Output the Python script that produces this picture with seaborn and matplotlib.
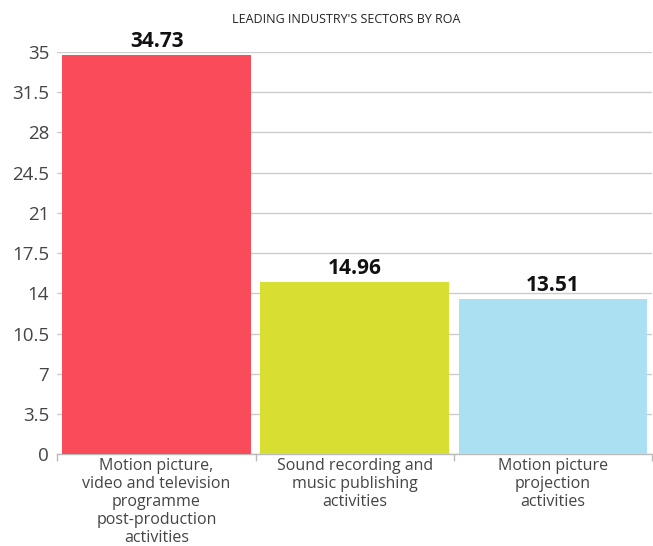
import numpy as np
import pandas as pd
import matplotlib
matplotlib.use("Agg")
import matplotlib.pyplot as plt
import seaborn as sns

# ==========================================================
# Data
# ==========================================================

sectors = [
    "Motion picture,\nvideo and television\nprogramme\npost-production\nactivities",
    "Sound recording and\nmusic publishing\nactivities",
    "Motion picture\nprojection\nactivities",
]
roa = [34.73, 14.96, 13.51]
bar_colors = ["#F94B5A", "#D8DF32", "#ABE0F2"]
y_ticks = [0, 3.5, 7, 10.5, 14, 17.5, 21, 24.5, 28, 31.5, 35]
title = "LEADING INDUSTRY'S SECTORS BY ROA"

# ==========================================================
# Plot
# ==========================================================

sns.set_theme(style="white")
plt.rcParams["font.family"] = ["Open Sans", "DejaVu Sans"]

df = pd.DataFrame({"sector": sectors, "roa": roa})

fig = plt.figure(figsize=(6.53, 5.46), dpi=100)
ax = fig.add_axes([0.088, 0.168, 0.91, 0.737])

sns.barplot(data=df, x="sector", y="roa", hue="sector",
            palette=bar_colors, width=0.95, saturation=1,
            legend=False, ax=ax, zorder=3, linewidth=0)

ax.set_xlim(-0.5, 2.5)
ax.set_ylim(0, 35)
ax.set_yticks(y_ticks)
ax.set_yticklabels([f"{t:g}" for t in y_ticks], fontsize=13.5, color="#444444")
ax.yaxis.grid(True, color="#cccccc", linewidth=1, zorder=0)
ax.tick_params(axis="y", length=5, color="#bbbbbb", pad=1)

ax.set_xticks(range(len(sectors)))
ax.set_xticklabels(sectors, fontsize=11.5, color="#444444", linespacing=1.15)
ax.set_xticks([-0.5, 0.5, 1.5, 2.5], minor=True)
ax.tick_params(axis="x", which="major", length=0, pad=3)
ax.tick_params(axis="x", which="minor", length=5, color="#bbbbbb",
               bottom=True)

ax.set_xlabel("")
ax.set_ylabel("")
for side in ["top", "right", "left"]:
    ax.spines[side].set_visible(False)
ax.spines["bottom"].set_color("#bbbbbb")
ax.spines["bottom"].set_linewidth(1)

for i, v in enumerate(roa):
    ax.text(i, v + 0.25, f"{v:.2f}", ha="center", va="bottom",
            fontsize=15, fontweight="bold", color="#111111")

fig.text(0.53, 0.965, title, ha="center", va="center", fontsize=9,
         color="#222222")

fig.savefig("out.png", dpi=100)
